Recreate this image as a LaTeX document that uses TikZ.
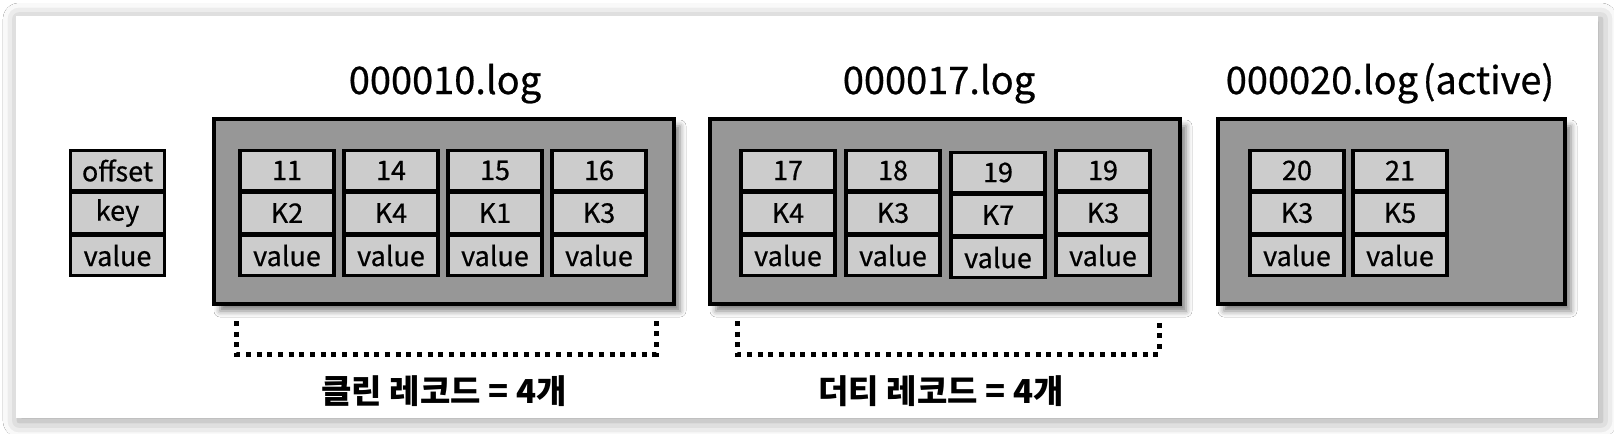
\documentclass[tikz,border=0pt]{standalone}
\usepackage{fontspec}
\setmainfont{Noto Sans CJK KR}
\newfontfamily\recfont{Noto Sans CJK KR}[FakeBold=0.6]
\usetikzlibrary{shadows.blur}

\begin{document}
\begin{tikzpicture}[x=0.5pt,y=-0.5pt,font=\recfont\fontsize{13.5}{16}\selectfont]
  \definecolor{segfill}{HTML}{979797}
  \definecolor{recfill}{HTML}{CCCCCC}
  \tikzset{
    reccell/.style={draw=black,line width=1.6pt,fill=recfill,minimum width=47pt,
      minimum height=20.25pt,inner sep=0pt,outer sep=0pt},
    segbox/.style={draw=black,line width=2pt,fill=segfill,minimum height=92.5pt,inner sep=0pt,
      blur shadow={shadow xshift=3pt,shadow yshift=-3.5pt,shadow blur radius=3pt,shadow opacity=50}},
    segtitle/.style={anchor=base,font=\recfont\fontsize{19}{22}\selectfont},
    countlabel/.style={font=\fontsize{16.5}{20}\selectfont\bfseries},
    bracket/.style={line width=2.5pt,dash pattern=on 2.5pt off 2.85pt}
  }

  \useasboundingbox (0,0) rectangle (1614,434);
  \fill[white] (0,0) rectangle (1614,434);
  \node[fill=white,minimum width=791pt,minimum height=201pt,inner sep=0pt,
    blur shadow={shadow xshift=1.5pt,shadow yshift=-1.5pt,shadow blur radius=8pt,shadow opacity=40}]
    (panel) at (807,217) {};

  % legend
  \foreach \t [count=\r] in {offset,key,value}
    \node[reccell] (leg\r) at (117.5,{128+42.5*\r}) {\t};

  % segment files
  \node[segbox,minimum width=230pt] (seg10) at (444,211.5) {};
  \node[segbox,minimum width=235pt] (seg17) at (945,211.5) {};
  \node[segbox,minimum width=173.5pt] (seg20) at (1391.5,211.5) {};

  \node[segtitle] (t10) at (445,94) {000010.log};
  \node[segtitle] (t17) at (939,94) {000017.log};
  \node[segtitle] (t20) at (1390,94) {000020.log\hspace{0.12em}(active)};

  % 000010.log
  \foreach \x/\o/\k [count=\i] in {287/11/K2,391/14/K4,495/15/K1,599/16/K3} {
    \node[reccell] (a\i-off) at (\x,170.5) {\o};
    \node[reccell] (a\i-key) at (\x,213) {\k};
    \node[reccell] (a\i-val) at (\x,255.5) {value};
  }
  % 000017.log
  \foreach \x/\o/\k/\dy [count=\i] in {788/17/K4/0,893/18/K3/0,998/19/K7/2,1103/19/K3/0} {
    \node[reccell] (b\i-off) at (\x,170.5+\dy) {\o};
    \node[reccell] (b\i-key) at (\x,213+\dy) {\k};
    \node[reccell] (b\i-val) at (\x,255.5+\dy) {value};
  }
  % 000020.log
  \foreach \x/\o/\k [count=\i] in {1297/20/K3,1400/21/K5} {
    \node[reccell] (c\i-off) at (\x,170.5) {\o};
    \node[reccell] (c\i-key) at (\x,213) {\k};
    \node[reccell] (c\i-val) at (\x,255.5) {value};
  }

  % record counts
  \coordinate (cleanL) at (236,321);
  \coordinate (cleanR) at (656,321);
  \coordinate (dirtyL) at (737,321);
  \coordinate (dirtyR) at (1159,321);
  \draw[bracket] (cleanL) -- ++(0,33) -| (cleanR);
  \draw[bracket] (dirtyL) -- ++(0,33) -| (dirtyR);
  \node[countlabel] (clean) at (444,391) {클린 레코드 = 4개};
  \node[countlabel] (dirty) at (941,391) {더티 레코드 = 4개};
\end{tikzpicture}
\end{document}
